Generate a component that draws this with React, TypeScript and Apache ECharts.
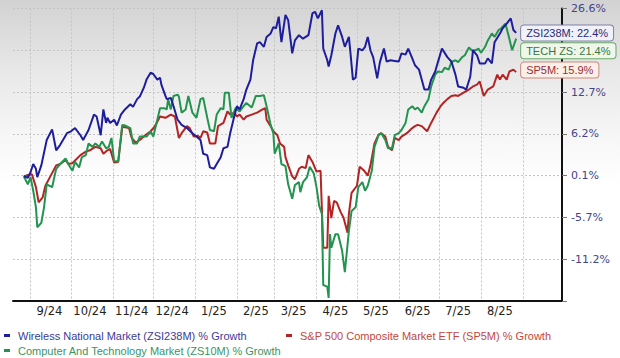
import React, { useEffect, useRef } from "react";
import * as echarts from "echarts";

// ---------- axis data ----------
const START_DATE = "2024-08-19";
const END_DATE = "2025-09-30";
const TICK_VALUES = [-11.2, -5.7, 0.1, 6.2, 12.7, 19.4, 26.6];
const TICK_LABELS = ["-11.2%", "-5.7%", "0.1%", "6.2%", "12.7%", "", "26.6%"]; // 19.4% sits under the end labels
const HIDDEN_LABEL_MONTH = "2025-09";

// ---------- series meta ----------
const SERIES_NAMES = [
  "Wireless National Market (ZSI238M) % Growth",
  "S&P 500 Composite Market ETF (SP5M) % Growth",
  "Computer And Technology Market (ZS10M) % Growth",
];
const SERIES_CODES = ["ZSI238M", "SP5M", "TECH ZS"];

// ---------- series values (% growth) ----------
const WIRELESS: [string, number][] = [
  ["2024-08-27", 0], ["2024-08-30", -0.2], ["2024-09-01", 0.6], ["2024-09-03", 1.8], ["2024-09-05", 1.1],
  ["2024-09-06", -0.1], ["2024-09-09", 1.6], ["2024-09-13", 5.3], ["2024-09-17", 6.9], ["2024-09-20", 3.8],
  ["2024-09-23", 4.6], ["2024-09-28", 6.3], ["2024-10-01", 6.6], ["2024-10-04", 7.1], ["2024-10-08", 6.0],
  ["2024-10-10", 5.3], ["2024-10-14", 6.8], ["2024-10-18", 9.2], ["2024-10-20", 8.9], ["2024-10-23", 6.0],
  ["2024-10-25", 10.0], ["2024-10-27", 7.9], ["2024-10-28", 8.7], ["2024-10-30", 7.9], ["2024-11-02", 8.4],
  ["2024-11-04", 7.5], ["2024-11-07", 9.2], ["2024-11-10", 10.0], ["2024-11-14", 10.8], ["2024-11-16", 10.4],
  ["2024-11-19", 11.6], ["2024-11-21", 12.0], ["2024-11-24", 13.4], ["2024-11-26", 14.7], ["2024-11-29", 15.8],
  ["2024-12-01", 15.6], ["2024-12-04", 14.7], ["2024-12-06", 15.0], ["2024-12-07", 13.9], ["2024-12-10", 12.1],
  ["2024-12-11", 11.6], ["2024-12-14", 11.8], ["2024-12-16", 10.5], ["2024-12-19", 8.4], ["2024-12-22", 7.6],
  ["2024-12-26", 7.1], ["2024-12-30", 6.3], ["2025-01-02", 5.8], ["2025-01-05", 5.3], ["2025-01-07", 3.3],
  ["2025-01-10", 3.1], ["2025-01-12", 1.3], ["2025-01-15", 1.1], ["2025-01-17", 1.8], ["2025-01-20", 2.8],
  ["2025-01-22", 4.1], ["2025-01-25", 4.3], ["2025-01-27", 6.3], ["2025-01-30", 8.9], ["2025-02-01", 10.5],
  ["2025-02-03", 10.0], ["2025-02-06", 11.6], ["2025-02-08", 13.1], ["2025-02-11", 14.7], ["2025-02-13", 17.8],
  ["2025-02-16", 20.6], ["2025-02-18", 20.8], ["2025-02-21", 20.0], ["2025-02-23", 21.7], ["2025-02-26", 22.3],
  ["2025-02-28", 23.4], ["2025-03-02", 23.2], ["2025-03-04", 25.2], ["2025-03-06", 20.8], ["2025-03-09", 25.5],
  ["2025-03-11", 24.6], ["2025-03-14", 18.9], ["2025-03-16", 21.1], ["2025-03-19", 22.0], ["2025-03-22", 21.4],
  ["2025-03-26", 22.0], ["2025-03-29", 25.8], ["2025-03-31", 26.0], ["2025-04-02", 24.9], ["2025-04-05", 26.3],
  ["2025-04-06", 19.7], ["2025-04-09", 17.8], ["2025-04-10", 16.8], ["2025-04-12", 18.6], ["2025-04-15", 22.3],
  ["2025-04-17", 23.7], ["2025-04-20", 21.7], ["2025-04-22", 20.0], ["2025-04-25", 21.7], ["2025-04-26", 19.4],
  ["2025-04-28", 14.7], ["2025-04-30", 15.0], ["2025-05-02", 19.7], ["2025-05-05", 19.4], ["2025-05-07", 20.0],
  ["2025-05-09", 21.7], ["2025-05-11", 19.4], ["2025-05-13", 18.3], ["2025-05-16", 14.9], ["2025-05-18", 17.5],
  ["2025-05-21", 19.7], ["2025-05-23", 17.6], ["2025-05-26", 17.8], ["2025-05-29", 17.7], ["2025-06-01", 17.6],
  ["2025-06-03", 18.9], ["2025-06-06", 18.7], ["2025-06-08", 19.7], ["2025-06-11", 18.1], ["2025-06-13", 17.0],
  ["2025-06-16", 16.3], ["2025-06-18", 14.7], ["2025-06-20", 13.1], ["2025-06-23", 13.1], ["2025-06-25", 14.7],
  ["2025-06-28", 16.0], ["2025-06-30", 17.5], ["2025-07-03", 19.7], ["2025-07-07", 18.3], ["2025-07-10", 17.6],
  ["2025-07-13", 15.5], ["2025-07-15", 13.6], ["2025-07-19", 13.4], ["2025-07-21", 13.1], ["2025-07-24", 15.2],
  ["2025-07-26", 19.4], ["2025-07-29", 18.6], ["2025-07-31", 17.3], ["2025-08-04", 17.3], ["2025-08-06", 18.1],
  ["2025-08-09", 17.3], ["2025-08-11", 20.8], ["2025-08-15", 22.3], ["2025-08-17", 23.2], ["2025-08-20", 24.0],
  ["2025-08-23", 24.9], ["2025-08-25", 22.9], ["2025-08-27", 22.4],
];

const SP500: [string, number][] = [
  ["2024-08-27", 0], ["2024-08-30", 0.2], ["2024-09-02", 0.3], ["2024-09-05", -1.5], ["2024-09-07", -3.6],
  ["2024-09-10", -2.9], ["2024-09-12", -1.3], ["2024-09-16", 0.1], ["2024-09-20", 1.6], ["2024-09-23", 1.8],
  ["2024-09-27", 2.4], ["2024-09-29", 1.8], ["2024-10-02", 1.9], ["2024-10-04", 2.3], ["2024-10-08", 3.1],
  ["2024-10-12", 3.6], ["2024-10-15", 3.8], ["2024-10-19", 4.3], ["2024-10-23", 4.1], ["2024-10-25", 3.3],
  ["2024-10-28", 3.8], ["2024-10-30", 4.0], ["2024-11-02", 2.0], ["2024-11-05", 2.1], ["2024-11-08", 7.3],
  ["2024-11-13", 7.1], ["2024-11-15", 5.6], ["2024-11-18", 4.9], ["2024-11-21", 5.3], ["2024-11-25", 6.0],
  ["2024-11-29", 6.6], ["2024-12-02", 7.3], ["2024-12-06", 8.9], ["2024-12-10", 8.7], ["2024-12-14", 9.2],
  ["2024-12-17", 8.9], ["2024-12-20", 5.6], ["2024-12-22", 6.3], ["2024-12-26", 7.4], ["2024-12-28", 7.1],
  ["2024-12-31", 5.8], ["2025-01-03", 5.9], ["2025-01-05", 5.6], ["2025-01-07", 6.6], ["2025-01-10", 6.4],
  ["2025-01-12", 4.8], ["2025-01-16", 4.8], ["2025-01-18", 7.4], ["2025-01-22", 7.9], ["2025-01-25", 9.7],
  ["2025-01-27", 9.2], ["2025-01-30", 9.5], ["2025-02-01", 8.9], ["2025-02-03", 9.2], ["2025-02-06", 8.4],
  ["2025-02-08", 8.9], ["2025-02-12", 9.2], ["2025-02-16", 9.5], ["2025-02-20", 10.0], ["2025-02-22", 10.2],
  ["2025-02-23", 8.4], ["2025-02-26", 7.4], ["2025-02-28", 6.6], ["2025-03-03", 6.0], ["2025-03-05", 4.8],
  ["2025-03-08", 4.3], ["2025-03-09", 2.8], ["2025-03-11", 1.6], ["2025-03-14", 0.0], ["2025-03-16", -0.4],
  ["2025-03-19", 1.1], ["2025-03-21", 1.4], ["2025-03-24", 1.2], ["2025-03-26", 3.1], ["2025-03-29", 2.1],
  ["2025-04-01", 0.7], ["2025-04-04", 0.8], ["2025-04-06", -9.7], ["2025-04-09", -9.7], ["2025-04-10", -2.7],
  ["2025-04-12", -5.8], ["2025-04-14", -3.4], ["2025-04-16", -3.6], ["2025-04-19", -5.0], ["2025-04-21", -5.7],
  ["2025-04-24", -7.7], ["2025-04-25", -5.2], ["2025-04-27", -2.3], ["2025-05-01", -1.3], ["2025-05-03", 1.4],
  ["2025-05-06", 0.9], ["2025-05-09", 0.1], ["2025-05-11", 1.6], ["2025-05-14", 4.8], ["2025-05-17", 6.1],
  ["2025-05-19", 6.3], ["2025-05-22", 5.8], ["2025-05-24", 4.3], ["2025-05-27", 3.8], ["2025-05-29", 5.6],
  ["2025-06-01", 5.3], ["2025-06-03", 5.8], ["2025-06-07", 6.3], ["2025-06-11", 7.1], ["2025-06-13", 7.4],
  ["2025-06-15", 7.6], ["2025-06-18", 7.4], ["2025-06-22", 6.6], ["2025-06-25", 7.9], ["2025-06-29", 9.5],
  ["2025-07-02", 10.5], ["2025-07-04", 11.0], ["2025-07-07", 11.6], ["2025-07-10", 12.1], ["2025-07-13", 12.2],
  ["2025-07-15", 12.1], ["2025-07-19", 12.6], ["2025-07-23", 13.1], ["2025-07-26", 13.6], ["2025-07-29", 13.9],
  ["2025-07-31", 14.4], ["2025-08-03", 12.1], ["2025-08-06", 13.1], ["2025-08-10", 13.6], ["2025-08-13", 15.5],
  ["2025-08-15", 14.7], ["2025-08-17", 15.5], ["2025-08-20", 14.7], ["2025-08-22", 16.0], ["2025-08-25", 16.3],
  ["2025-08-27", 15.9],
];

const TECH: [string, number][] = [
  ["2024-08-27", 0], ["2024-08-30", -1.1], ["2024-09-01", -0.1], ["2024-09-03", -2.0], ["2024-09-05", -4.3],
  ["2024-09-06", -7.0], ["2024-09-09", -6.4], ["2024-09-11", -4.3], ["2024-09-13", -1.1], ["2024-09-17", -1.5],
  ["2024-09-20", 1.1], ["2024-09-23", 1.8], ["2024-09-27", 2.6], ["2024-09-29", 1.8], ["2024-10-02", 0.8],
  ["2024-10-04", 2.1], ["2024-10-07", 1.3], ["2024-10-09", 2.8], ["2024-10-12", 3.1], ["2024-10-14", 4.8],
  ["2024-10-17", 4.3], ["2024-10-19", 4.8], ["2024-10-22", 4.3], ["2024-10-24", 5.1], ["2024-10-27", 4.1],
  ["2024-10-29", 4.3], ["2024-10-31", 5.6], ["2024-11-02", 2.2], ["2024-11-05", 2.2], ["2024-11-08", 7.6],
  ["2024-11-10", 7.5], ["2024-11-14", 7.1], ["2024-11-16", 4.8], ["2024-11-19", 4.8], ["2024-11-21", 5.8],
  ["2024-11-26", 5.8], ["2024-11-29", 6.6], ["2024-12-01", 5.8], ["2024-12-04", 8.4], ["2024-12-06", 10.2],
  ["2024-12-09", 10.2], ["2024-12-11", 10.0], ["2024-12-12", 11.6], ["2024-12-14", 10.0], ["2024-12-16", 12.1],
  ["2024-12-19", 12.3], ["2024-12-20", 12.0], ["2024-12-22", 9.5], ["2024-12-25", 10.0], ["2024-12-27", 12.1],
  ["2024-12-30", 9.5], ["2025-01-02", 8.7], ["2025-01-05", 11.6], ["2025-01-07", 11.8], ["2025-01-10", 8.7],
  ["2025-01-12", 6.8], ["2025-01-15", 6.6], ["2025-01-17", 9.2], ["2025-01-20", 10.2], ["2025-01-22", 10.0],
  ["2025-01-23", 12.6], ["2025-01-26", 12.6], ["2025-01-28", 8.7], ["2025-01-31", 10.2], ["2025-02-03", 9.7],
  ["2025-02-06", 10.5], ["2025-02-08", 11.0], ["2025-02-12", 10.3], ["2025-02-15", 12.1], ["2025-02-18", 12.1],
  ["2025-02-21", 12.2], ["2025-02-23", 10.5], ["2025-02-26", 7.6], ["2025-02-28", 6.3], ["2025-03-01", 3.3],
  ["2025-03-04", 4.8], ["2025-03-06", 1.8], ["2025-03-09", 1.5], ["2025-03-11", -1.1], ["2025-03-14", -3.1],
  ["2025-03-16", -1.2], ["2025-03-19", -0.8], ["2025-03-20", -2.2], ["2025-03-22", -0.8], ["2025-03-25", -0.1],
  ["2025-03-27", 1.4], ["2025-03-30", 0.4], ["2025-04-01", -1.5], ["2025-04-03", -4.1], ["2025-04-05", -5.2],
  ["2025-04-06", -14.6], ["2025-04-09", -14.8], ["2025-04-10", -16.3], ["2025-04-11", -7.9], ["2025-04-12", -9.7],
  ["2025-04-15", -7.9], ["2025-04-17", -7.9], ["2025-04-20", -10.1], ["2025-04-22", -12.9], ["2025-04-25", -7.5],
  ["2025-04-27", -4.8], ["2025-04-30", -4.3], ["2025-05-02", -1.5], ["2025-05-05", -0.8], ["2025-05-07", -2.0],
  ["2025-05-09", -1.3], ["2025-05-12", 0.8], ["2025-05-14", 4.3], ["2025-05-17", 6.0], ["2025-05-19", 6.3],
  ["2025-05-22", 5.3], ["2025-05-24", 4.1], ["2025-05-27", 4.1], ["2025-05-29", 6.0], ["2025-06-01", 6.3],
  ["2025-06-03", 6.8], ["2025-06-06", 7.9], ["2025-06-08", 10.0], ["2025-06-11", 10.5], ["2025-06-13", 10.0],
  ["2025-06-15", 10.3], ["2025-06-18", 9.5], ["2025-06-20", 10.5], ["2025-06-23", 11.6], ["2025-06-25", 13.6],
  ["2025-06-28", 15.5], ["2025-06-30", 16.0], ["2025-07-03", 15.9], ["2025-07-05", 16.6], ["2025-07-08", 16.3],
  ["2025-07-10", 17.5], ["2025-07-13", 17.8], ["2025-07-15", 17.5], ["2025-07-18", 18.3], ["2025-07-20", 18.6],
  ["2025-07-23", 19.9], ["2025-07-25", 19.4], ["2025-07-28", 19.4], ["2025-07-30", 19.7], ["2025-08-01", 19.0],
  ["2025-08-04", 20.0], ["2025-08-06", 21.1], ["2025-08-09", 22.3], ["2025-08-11", 21.7], ["2025-08-14", 22.9],
  ["2025-08-16", 23.2], ["2025-08-19", 24.0], ["2025-08-21", 22.3], ["2025-08-24", 19.4], ["2025-08-27", 21.4],
];

// ---------- helpers ----------
function buildDays(start: string, end: string): string[] {
  const out: string[] = [];
  const t1 = Date.parse(end);
  for (let t = Date.parse(start); t <= t1; t += 86400000) {
    out.push(new Date(t).toISOString().slice(0, 10));
  }
  return out;
}

// maps a % growth value onto the chart's (log-like) tick index scale
function toAxis(p: number): number {
  const T = TICK_VALUES;
  let i = 0;
  while (i < T.length - 2 && p > T[i + 1]) i++;
  return i + (p - T[i]) / (T[i + 1] - T[i]);
}

const COLORS = ["#1e1e9c", "#b42424", "#23944f"];
const LEGEND_TEXT = ["#3c3c96", "#c4473d", "#3a9464"];
const LABEL_STYLE = [
  { color: "#2a2a78", bg: "#f1f1fa", border: "#8080aa", offset: [0, 0] },
  { color: "#983030", bg: "#fcefe9", border: "#c98a7c", offset: [0, -2] },
  { color: "#3a7640", bg: "#eef7ea", border: "#6aa86a", offset: [0, 12] },
];

function buildOption() {
  const days = buildDays(START_DATE, END_DATE);
  const sets = [WIRELESS, SP500, TECH];

  const series = sets.map((set, i) => {
    const last = set[set.length - 1][1];
    const ls = LABEL_STYLE[i];
    return {
      name: SERIES_NAMES[i],
      type: "line",
      data: set.map(([d, v]) => [d, toAxis(v)]),
      showSymbol: false,
      symbol: "none",
      connectNulls: true,
      lineStyle: { color: COLORS[i], width: 2 },
      itemStyle: { color: COLORS[i] },
      z: i === 0 ? 3 : 2,
      endLabel: {
        show: true,
        formatter: `${SERIES_CODES[i]}: ${last.toFixed(1)}%`,
        color: ls.color,
        fontFamily: "Liberation Sans, Arial, sans-serif",
        fontSize: 11,
        backgroundColor: ls.bg,
        borderColor: ls.border,
        borderWidth: 1,
        borderRadius: 3,
        padding: [2, 5, 2, 5],
        distance: 5,
        offset: ls.offset,
      },
    };
  });

  const legendCommon = {
    icon: "rect",
    itemWidth: 6,
    itemHeight: 3,
    selectedMode: false,
    padding: 0,
    orient: "horizontal",
  };
  const legendPos = [
    { left: 4, top: 330 },
    { left: 286, top: 330 },
    { left: 4, top: 345 },
  ];
  const legend = SERIES_NAMES.map((n, i) => ({
    ...legendCommon,
    ...legendPos[i],
    data: [n],
    textStyle: {
      color: LEGEND_TEXT[i],
      fontSize: 11,
      fontFamily: "Liberation Sans, Arial, sans-serif",
      padding: [0, 0, 0, 3],
    },
  }));

  return {
    animation: false,
    backgroundColor: "#ffffff",
    graphic: [
      {
        type: "rect",
        z: -10,
        silent: true,
        shape: { x: 0, y: 0, width: 620, height: 185 },
        style: {
          fill: new echarts.graphic.LinearGradient(0, 0, 0, 1, [
            { offset: 0, color: "#d2d2d2" },
            { offset: 0.4, color: "#e9e9e9" },
            { offset: 0.75, color: "#f7f7f7" },
            { offset: 1, color: "#ffffff" },
          ]),
        },
      },
    ],
    grid: { left: 13, right: 58, top: 8.5, bottom: 57, containLabel: false },
    legend,
    xAxis: {
      type: "category",
      data: days,
      boundaryGap: false,
      axisLine: { onZero: false, lineStyle: { color: "#111", width: 2 } },
      axisTick: { show: false },
      splitLine: {
        show: true,
        interval: (_i: number, v: string) => v.endsWith("-01"),
        lineStyle: { color: "#c4c4c4", type: [2, 2], width: 1 },
      },
      axisLabel: {
        interval: (_i: number, v: string) => v.endsWith("-15") && !v.startsWith(HIDDEN_LABEL_MONTH),
        formatter: (v: string) => `${Number(v.slice(5, 7))}/${v.slice(2, 4)}`,
        color: "#222",
        fontSize: 11.5,
        fontFamily: "DejaVu Sans, Verdana, sans-serif",
        margin: 4,
      },
    },
    yAxis: {
      type: "value",
      position: "right",
      min: -1,
      max: 6,
      interval: 1,
      axisLine: { show: true, lineStyle: { color: "#111", width: 2 } },
      axisTick: { show: true, length: 5, lineStyle: { color: "#777" } },
      splitLine: { show: true, lineStyle: { color: "#c4c4c4", type: [2, 2], width: 1 } },
      axisLabel: {
        formatter: (v: number) => {
          const k = Math.round(v);
          return k >= 0 && k < TICK_LABELS.length ? TICK_LABELS[k] : "";
        },
        color: "#44448c",
        fontSize: 11,
        fontFamily: "DejaVu Sans, Verdana, sans-serif",
        margin: 9,
      },
    },
    series,
  };
}

export default function App() {
  const ref = useRef<HTMLDivElement>(null);
  useEffect(() => {
    if (!ref.current) return;
    const chart = echarts.init(ref.current, undefined, { renderer: "svg" });
    chart.setOption(buildOption() as any);
    return () => chart.dispose();
  }, []);
  return (
    <div
      ref={ref}
      style={{ position: "fixed", left: 0, top: 0, width: 620, height: 358, background: "#fff" }}
    />
  );
}
